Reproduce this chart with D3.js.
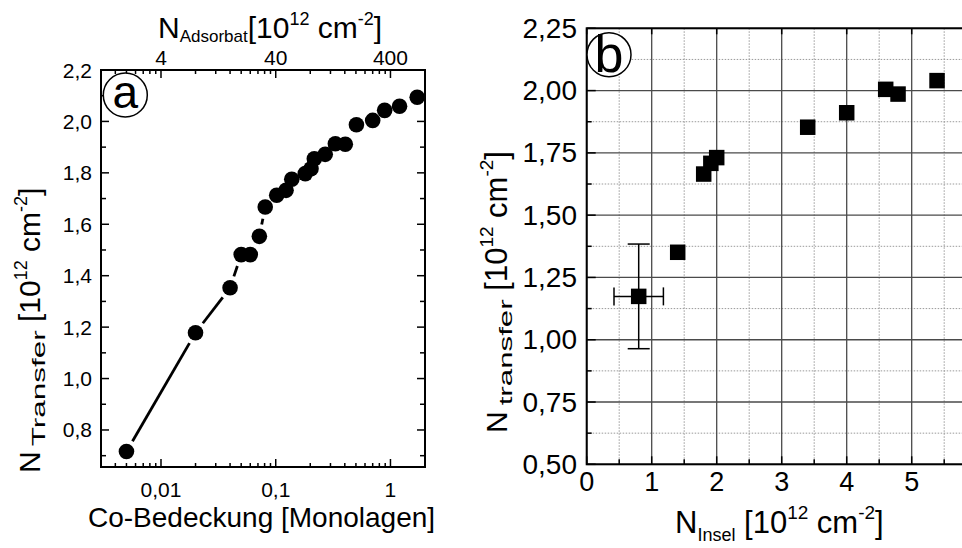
<!DOCTYPE html>
<html>
<head>
<meta charset="utf-8">
<script src="https://cdn.jsdelivr.net/npm/d3@7"></script>
<style>
  html, body { margin: 0; padding: 0; background: #fff; }
  text, tspan { font-family: "Liberation Sans", Arimo, Arial, Helvetica, sans-serif; }
</style>
</head>
<body>
<svg id="chart" width="962" height="548"></svg>
<script>
// ---------- Panel (a) data ----------
const coverage = [0.005, 0.02, 0.04, 0.05, 0.06, 0.072, 0.081, 0.102, 0.123, 0.138, 0.181,
                  0.203, 0.217, 0.27, 0.331, 0.404, 0.505, 0.70, 0.89, 1.2, 1.71];
const nTransferA = [0.716, 1.178, 1.353, 1.482, 1.482, 1.553, 1.667, 1.713, 1.732, 1.775, 1.797,
                    1.816, 1.855, 1.872, 1.913, 1.911, 1.987, 2.004, 2.043, 2.059, 2.094];
const aBottomTicks = [0.01, 0.1, 1];
const aBottomTickLabels = ["0,01", "0,1", "1"];
const aTopTicks = [4, 40, 400];            // N_Adsorbat = 400 * coverage
const aTopTickLabels = ["4", "40", "400"];
const adsorbatPerMonolayer = 400;
const aYTicks = [0.8, 1.0, 1.2, 1.4, 1.6, 1.8, 2.0, 2.2];
const aYTickLabels = ["0,8", "1,0", "1,2", "1,4", "1,6", "1,8", "2,0", "2,2"];

// ---------- Panel (b) data ----------
const nInsel = [0.80, 1.40, 1.80, 1.91, 2.00, 3.40, 4.00, 4.60, 4.79, 5.39];
const nTransferB = [1.174, 1.351, 1.665, 1.708, 1.731, 1.853, 1.911, 2.005, 1.986, 2.040];
const errPoint = { x: 0.80, y: 1.174, xerr: 0.38, yerrUp: 0.21, yerrDown: 0.21 };
const bXTicks = [0, 1, 2, 3, 4, 5];
const bXTickLabels = ["0", "1", "2", "3", "4", "5"];
const bYTicks = [0.50, 0.75, 1.00, 1.25, 1.50, 1.75, 2.00, 2.25];
const bYTickLabels = ["0,50", "0,75", "1,00", "1,25", "1,50", "1,75", "2,00", "2,25"];

const FONT = "'Liberation Sans', Arimo, Arial, Helvetica, sans-serif";
const svg = d3.select("#chart");

// rich text built from separate pieces; a piece may be stretched to a given length
function richText(g, parts) {
  let x = 0;
  parts.forEach(p => {
    x += p.gap || 0;
    const t = g.append("text").attr("font-family", FONT).attr("font-size", p.size)
      .attr("fill", "#000").text(p.t);
    const natural = t.node().getComputedTextLength();
    const sx = p.len ? p.len / natural : 1;
    t.attr("transform", `translate(${x},${p.dy || 0}) scale(${sx},1)`);
    x += natural * sx;
  });
}

// ================= Panel (a) =================
const aL = 101, aR = 425, aT = 70, aB = 467;
const xA = d3.scaleLog().domain([0.003, 2.0]).range([aL, aR]);
const xATop = d3.scaleLog().domain([0.003 * adsorbatPerMonolayer, 2.0 * adsorbatPerMonolayer]).range([aL, aR]);
const yA = d3.scaleLinear().domain([0.656, 2.2]).range([aB, aT]);

const gA = svg.append("g").attr("font-family", FONT);
const aMinor = xA.ticks().filter(v => !aBottomTicks.some(m => Math.abs(m - v) < 1e-9));
gA.selectAll(".amb").data(aMinor).enter().append("line")
  .attr("x1", d => xA(d)).attr("x2", d => xA(d)).attr("y1", aB).attr("y2", aB - 4)
  .attr("stroke", "#000").attr("stroke-width", 1.5);
gA.selectAll(".amt").data(aMinor).enter().append("line")
  .attr("x1", d => xA(d)).attr("x2", d => xA(d)).attr("y1", aT).attr("y2", aT + 4)
  .attr("stroke", "#000").attr("stroke-width", 1.5);
gA.selectAll(".aMb").data(aBottomTicks).enter().append("line")
  .attr("x1", d => xA(d)).attr("x2", d => xA(d)).attr("y1", aB).attr("y2", aB - 8)
  .attr("stroke", "#000").attr("stroke-width", 1.5);
gA.selectAll(".aMt").data(aTopTicks).enter().append("line")
  .attr("x1", d => xATop(d)).attr("x2", d => xATop(d)).attr("y1", aT).attr("y2", aT + 8)
  .attr("stroke", "#000").attr("stroke-width", 1.5);
const aYMinor = aYTicks.map(v => v - 0.1).filter(v => v > 0.656);
[aL, aR].forEach((xx, side) => {
  const dir = side === 0 ? 1 : -1;
  gA.selectAll(null).data(aYTicks).enter().append("line")
    .attr("x1", xx).attr("x2", xx + dir * 8).attr("y1", d => yA(d)).attr("y2", d => yA(d))
    .attr("stroke", "#000").attr("stroke-width", 1.5);
  gA.selectAll(null).data(aYMinor).enter().append("line")
    .attr("x1", xx).attr("x2", xx + dir * 5).attr("y1", d => yA(d)).attr("y2", d => yA(d))
    .attr("stroke", "#000").attr("stroke-width", 1.5);
});
gA.append("rect").attr("x", aL).attr("y", aT).attr("width", aR - aL).attr("height", aB - aT)
  .attr("fill", "none").attr("stroke", "#000").attr("stroke-width", 2);

gA.selectAll(".abl").data(aBottomTicks).enter().append("text")
  .attr("x", d => xA(d)).attr("y", 497).attr("text-anchor", "middle").attr("font-size", 21)
  .text((d, i) => aBottomTickLabels[i]);
gA.selectAll(".atl").data(aTopTicks).enter().append("text")
  .attr("x", d => xATop(d)).attr("y", 65).attr("text-anchor", "middle").attr("font-size", 21)
  .text((d, i) => aTopTickLabels[i]);
gA.selectAll(".ayl").data(aYTicks).enter().append("text")
  .attr("x", 92).attr("y", d => yA(d) + 7.5).attr("text-anchor", "end").attr("font-size", 21)
  .text((d, i) => aYTickLabels[i]);

const ptsA = coverage.map((c, i) => [xA(c), yA(nTransferA[i])]);
const gap = 12;
for (let i = 0; i < ptsA.length - 1; i++) {
  const [x1, y1] = ptsA[i], [x2, y2] = ptsA[i + 1];
  const len = Math.hypot(x2 - x1, y2 - y1);
  if (len <= 2 * gap) continue;
  const ux = (x2 - x1) / len, uy = (y2 - y1) / len;
  gA.append("line")
    .attr("x1", x1 + ux * gap).attr("y1", y1 + uy * gap)
    .attr("x2", x2 - ux * gap).attr("y2", y2 - uy * gap)
    .attr("stroke", "#000").attr("stroke-width", 2.8);
}
gA.selectAll(".dot").data(coverage).enter().append("circle")
  .attr("cx", d => xA(d)).attr("cy", (d, i) => yA(nTransferA[i])).attr("r", 7.8)
  .attr("fill", "#000");

gA.append("circle").attr("cx", 125.3).attr("cy", 95).attr("r", 22)
  .attr("fill", "#fff").attr("stroke", "#000").attr("stroke-width", 1.5);
gA.append("text").attr("x", 125.3).attr("y", 108).attr("text-anchor", "middle")
  .attr("font-size", 46).text("a");

// titles (a)
richText(svg.append("g").attr("transform", "translate(158,38)"), [
  { t: "N", size: 30 }, { t: "Adsorbat", size: 17, dy: 4 }, { t: "[10", size: 30 },
  { t: "12", size: 18, dy: -13 }, { t: "cm", size: 30, gap: 8.3 }, { t: "-2", size: 18, dy: -13 }, { t: "]", size: 30 }
]);
svg.append("text").attr("font-family", FONT).attr("x", 88).attr("y", 527).attr("font-size", 28)
  .text("Co-Bedeckung [Monolagen]");
richText(svg.append("g").attr("transform", "translate(40,473) rotate(-90)"), [
  { t: "N", size: 30 }, { t: "Transfer", size: 19, dy: 5, gap: 5, len: 116 }, { t: "[10", size: 30, gap: 8.3 },
  { t: "12", size: 18, dy: -13 }, { t: "cm", size: 30, gap: 8.3 }, { t: "-2", size: 18, dy: -13 }, { t: "]", size: 30 }
]);

// ================= Panel (b) =================
const bL = 586.7, bT = 28.3, bB = 464.3;
const xB = d3.scaleLinear().domain([0, 6]).range([bL, bL + 390]);
const yB = d3.scaleLinear().domain([0.5, 2.25]).range([bB, bT]);
const bR = xB(6);
const gB = svg.append("g").attr("font-family", FONT);

const bXMinor = bXTicks.map(v => v + 0.5).filter(v => v <= 6);
const bXMajorGrid = bXTicks.concat([6]);
const bYMinor = bYTicks.slice(0, -1).map(v => v + 0.125);

gB.selectAll(".gxm").data(bXMinor).enter().append("line")
  .attr("x1", d => xB(d)).attr("x2", d => xB(d)).attr("y1", bT).attr("y2", bB)
  .attr("stroke", "#9a9a9a").attr("stroke-width", 1).attr("stroke-dasharray", "1.5,1.5");
gB.selectAll(".gym").data(bYMinor).enter().append("line")
  .attr("x1", bL).attr("x2", bR).attr("y1", d => yB(d)).attr("y2", d => yB(d))
  .attr("stroke", "#9a9a9a").attr("stroke-width", 1).attr("stroke-dasharray", "1.5,1.5");
gB.selectAll(".gxM").data(bXMajorGrid).enter().append("line")
  .attr("x1", d => xB(d)).attr("x2", d => xB(d)).attr("y1", bT).attr("y2", bB)
  .attr("stroke", "#4a4a4a").attr("stroke-width", 1.3);
gB.selectAll(".gyM").data(bYTicks).enter().append("line")
  .attr("x1", bL).attr("x2", bR).attr("y1", d => yB(d)).attr("y2", d => yB(d))
  .attr("stroke", "#4a4a4a").attr("stroke-width", 1.3);

gB.selectAll(".tbM").data(bXTicks).enter().append("line")
  .attr("x1", d => xB(d)).attr("x2", d => xB(d)).attr("y1", bB).attr("y2", bB - 8)
  .attr("stroke", "#000").attr("stroke-width", 1.5);
gB.selectAll(".tbm").data(bXMinor).enter().append("line")
  .attr("x1", d => xB(d)).attr("x2", d => xB(d)).attr("y1", bB).attr("y2", bB - 5)
  .attr("stroke", "#000").attr("stroke-width", 1.5);
gB.selectAll(".ttM").data(bXTicks).enter().append("line")
  .attr("x1", d => xB(d)).attr("x2", d => xB(d)).attr("y1", bT).attr("y2", bT + 6)
  .attr("stroke", "#000").attr("stroke-width", 1.5);
gB.selectAll(".tlM").data(bYTicks).enter().append("line")
  .attr("x1", bL).attr("x2", bL + 9).attr("y1", d => yB(d)).attr("y2", d => yB(d))
  .attr("stroke", "#000").attr("stroke-width", 1.5);
gB.selectAll(".tlm").data(bYMinor).enter().append("line")
  .attr("x1", bL).attr("x2", bL + 5).attr("y1", d => yB(d)).attr("y2", d => yB(d))
  .attr("stroke", "#000").attr("stroke-width", 1.5);

gB.append("rect").attr("x", bL).attr("y", bT).attr("width", bR - bL).attr("height", bB - bT)
  .attr("fill", "none").attr("stroke", "#000").attr("stroke-width", 2);

gB.selectAll(".bxl").data(bXTicks).enter().append("text")
  .attr("x", d => xB(d)).attr("y", 491).attr("text-anchor", "middle").attr("font-size", 27)
  .text((d, i) => bXTickLabels[i]);
gB.selectAll(".byl").data(bYTicks).enter().append("text")
  .attr("x", 577).attr("y", d => yB(d) + 9.5).attr("text-anchor", "end").attr("font-size", 28)
  .text((d, i) => bYTickLabels[i]);

const ex = xB(errPoint.x), ey = yB(errPoint.y);
const eb = gB.append("g").attr("stroke", "#000").attr("stroke-width", 1.5);
eb.append("line").attr("x1", ex).attr("x2", ex)
  .attr("y1", yB(errPoint.y + errPoint.yerrUp)).attr("y2", yB(errPoint.y - errPoint.yerrDown));
eb.append("line").attr("x1", ex - 11).attr("x2", ex + 11)
  .attr("y1", yB(errPoint.y + errPoint.yerrUp)).attr("y2", yB(errPoint.y + errPoint.yerrUp));
eb.append("line").attr("x1", ex - 11).attr("x2", ex + 11)
  .attr("y1", yB(errPoint.y - errPoint.yerrDown)).attr("y2", yB(errPoint.y - errPoint.yerrDown));
eb.append("line").attr("x1", xB(errPoint.x - errPoint.xerr)).attr("x2", xB(errPoint.x + errPoint.xerr))
  .attr("y1", ey).attr("y2", ey);
eb.append("line").attr("x1", xB(errPoint.x - errPoint.xerr)).attr("x2", xB(errPoint.x - errPoint.xerr))
  .attr("y1", ey - 9).attr("y2", ey + 9);
eb.append("line").attr("x1", xB(errPoint.x + errPoint.xerr)).attr("x2", xB(errPoint.x + errPoint.xerr))
  .attr("y1", ey - 9).attr("y2", ey + 9);

const sq = 15.5;
gB.selectAll(".sq").data(nInsel).enter().append("rect")
  .attr("x", d => xB(d) - sq / 2).attr("y", (d, i) => yB(nTransferB[i]) - sq / 2)
  .attr("width", sq).attr("height", sq).attr("fill", "#000");

gB.append("circle").attr("cx", 609).attr("cy", 54.7).attr("r", 22)
  .attr("fill", "#fff").attr("stroke", "#000").attr("stroke-width", 1.5);
gB.append("text").attr("x", 609).attr("y", 72).attr("text-anchor", "middle")
  .attr("font-size", 52).text("b");

// titles (b)
richText(svg.append("g").attr("transform", "translate(675,533)"), [
  { t: "N", size: 31 }, { t: "Insel", size: 18, dy: 8 }, { t: "[10", size: 31, gap: 8.6 },
  { t: "12", size: 19, dy: -14 }, { t: "cm", size: 31, gap: 8.6 }, { t: "-2", size: 19, dy: -14 }, { t: "]", size: 31 }
]);
richText(svg.append("g").attr("transform", "translate(507,433) rotate(-90)"), [
  { t: "N", size: 30 }, { t: "transfer", size: 19, dy: 5, gap: 6, len: 106 }, { t: "[10", size: 31, gap: 8.6 },
  { t: "12", size: 19, dy: -14 }, { t: "cm", size: 31, gap: 8.6 }, { t: "-2", size: 19, dy: -14 }, { t: "]", size: 31 }
]);
</script>
</body>
</html>
